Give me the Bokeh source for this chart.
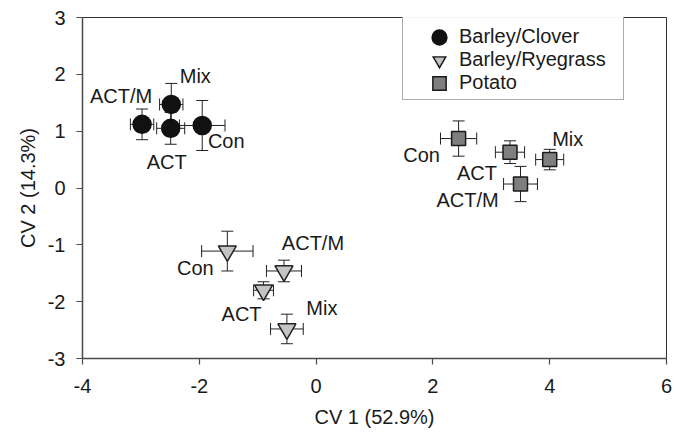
import math
from bokeh.plotting import figure
from bokeh.models import (ColumnDataSource, Whisker, TeeHead, FixedTicker,
                          Legend, LegendItem)
from bokeh.embed import file_html
from bokeh.resources import INLINE
from bokeh.core.properties import value

# ---------------- data ----------------
x_ticks = [-4, -2, 0, 2, 4, 6]
x_tick_labels = ["-4", "-2", "0", "2", "4", "6"]
y_ticks = [-3, -2, -1, 0, 1, 2, 3]
y_tick_labels = ["-3", "-2", "-1", "0", "1", "2", "3"]
x_title = "CV 1 (52.9%)"
y_title = "CV 2 (14.3%)"

group_names = ["Barley/Clover", "Barley/Ryegrass", "Potato"]

clover_labels = ["ACT/M", "Mix", "ACT", "Con"]
clover_x = [-2.98, -2.48, -2.49, -1.95]
clover_y = [1.12, 1.47, 1.05, 1.10]
clover_xerr = [0.20, 0.20, 0.24, 0.39]
clover_yerr = [0.27, 0.37, 0.28, 0.44]

rye_labels = ["Con", "ACT/M", "ACT", "Mix"]
rye_x = [-1.52, -0.55, -0.90, -0.50]
rye_y = [-1.11, -1.46, -1.80, -2.48]
rye_xerr = [0.44, 0.30, 0.17, 0.28]
rye_yerr = [0.35, 0.19, 0.15, 0.26]

potato_labels = ["Con", "ACT", "Mix", "ACT/M"]
potato_x = [2.44, 3.32, 4.00, 3.50]
potato_y = [0.87, 0.63, 0.50, 0.07]
potato_xerr = [0.31, 0.25, 0.24, 0.29]
potato_yerr = [0.31, 0.20, 0.18, 0.31]

# label placement (screen-pixel offsets from each point)
clover_dx = [-21, 24, -4, 24]
clover_dy = [-28, -28, 34, 16]
rye_dx = [-32, 29, -22, 35]
rye_dy = [17, -28, 24, -21]
potato_dx = [-37, -33, 18, -53]
potato_dy = [16, 21, -21, 16]

FONT = "Liberation Sans"
CLOVER_FILL, RYE_FILL, POTATO_FILL, EDGE = "#111111", "#c4c4c4", "#7f7f7f", "#1a1a1a"

p = figure(width=685, height=432, output_backend="svg", toolbar_location=None,
           x_range=(-4, 6), y_range=(-3, 3),
           min_border_left=82, min_border_right=19,
           min_border_top=17, min_border_bottom=74)
p.background_fill_color = "white"
p.border_fill_color = "white"
p.outline_line_color = "#333333"
p.outline_line_width = 1
p.xgrid.visible = False
p.ygrid.visible = False

for ax in (p.xaxis[0], p.yaxis[0]):
    ax.axis_line_color = "#4a4a4a"
    ax.axis_line_width = 1.5
    ax.major_tick_line_color = "#4a4a4a"
    ax.major_tick_line_width = 1.2
    ax.major_tick_out = 6
    ax.major_tick_in = 0
    ax.minor_tick_line_color = None
    ax.major_label_text_font = FONT
    ax.major_label_text_font_size = "20px"
    ax.major_label_text_color = "#1a1a1a"
    ax.axis_label_text_font = FONT
    ax.axis_label_text_font_size = "20px"
    ax.axis_label_text_font_style = "normal"
    ax.axis_label_text_color = "#1a1a1a"

p.xaxis.ticker = FixedTicker(ticks=x_ticks)
p.yaxis.ticker = FixedTicker(ticks=y_ticks)
p.xaxis.major_label_overrides = dict(zip(x_ticks, x_tick_labels))
p.yaxis.major_label_overrides = dict(zip(y_ticks, y_tick_labels))
p.xaxis.axis_label = x_title
p.yaxis.axis_label = y_title
p.xaxis.major_label_standoff = 14
p.yaxis.major_label_standoff = 11
p.xaxis.axis_label_standoff = 10
p.yaxis.axis_label_standoff = 6


def add_group(xs, ys, xerr, yerr, labels, dx, dy, marker, size, fill, line):
    src = ColumnDataSource(dict(
        x=xs, y=ys,
        xl=[a - e for a, e in zip(xs, xerr)], xu=[a + e for a, e in zip(xs, xerr)],
        yl=[a - e for a, e in zip(ys, yerr)], yu=[a + e for a, e in zip(ys, yerr)],
        lab=labels, dx=dx, dy=dy))
    for dim, base, lo, up in (("width", "y", "xl", "xu"), ("height", "x", "yl", "yu")):
        w = Whisker(source=src, base=base, lower=lo, upper=up, dimension=dim,
                    line_color="#222222", line_width=1, level="underlay",
                    upper_head=TeeHead(size=12, line_color="#222222", line_width=1),
                    lower_head=TeeHead(size=12, line_color="#222222", line_width=1))
        p.add_layout(w)
    p.scatter("x", "y", source=src, marker=marker, size=size,
              fill_color=fill, line_color=line, line_width=1.5)
    p.text("x", "y", text="lab", x_offset="dx", y_offset="dy", source=src,
           text_font=value(FONT), text_font_size="20px", text_color="#1a1a1a",
           text_align="center", text_baseline="middle")


add_group(clover_x, clover_y, clover_xerr, clover_yerr, clover_labels,
          clover_dx, clover_dy, "circle", 18, CLOVER_FILL, CLOVER_FILL)
add_group(rye_x, rye_y, rye_xerr, rye_yerr, rye_labels,
          rye_dx, rye_dy, "inverted_triangle", 18, RYE_FILL, "#222222")
add_group(potato_x, potato_y, potato_xerr, potato_yerr, potato_labels,
          potato_dx, potato_dy, "square", 14, POTATO_FILL, EDGE)


# legend swatches: renderers with no drawable point (outer dark outline +
# inner fill) so the legend markers are drawn at the reference's size
def swatch(marker, color, lw):
    return p.scatter(x=[math.nan], y=[math.nan], marker=marker, size=10,
                     fill_color=color, line_color=color, line_width=lw,
                     line_join="miter")


leg_clover = [swatch("circle", CLOVER_FILL, 7.5)]
leg_rye = [swatch("inverted_triangle", EDGE, 3.6), swatch("inverted_triangle", RYE_FILL, 0.8)]
leg_potato = [swatch("square", EDGE, 6.0), swatch("square", POTATO_FILL, 3.0)]

legend = Legend(items=[LegendItem(label=n, renderers=r)
                       for n, r in zip(group_names, (leg_clover, leg_rye, leg_potato))],
                location=(320, 258))
legend.border_line_color = "#555555"
legend.border_line_width = 1
legend.background_fill_color = "white"
legend.padding = dict(left=25, right=4, top=8, bottom=5)
legend.spacing = 0
legend.glyph_width = 22
legend.glyph_height = 22
legend.label_standoff = 9
legend.label_height = 20
legend.label_width = 160
legend.label_text_font = FONT
legend.label_text_font_size = "20px"
legend.label_text_color = "#1a1a1a"
legend.label_text_baseline = "middle"
legend.margin = 0
p.add_layout(legend, "center")

open("out.html", "w").write(file_html(p, INLINE))
